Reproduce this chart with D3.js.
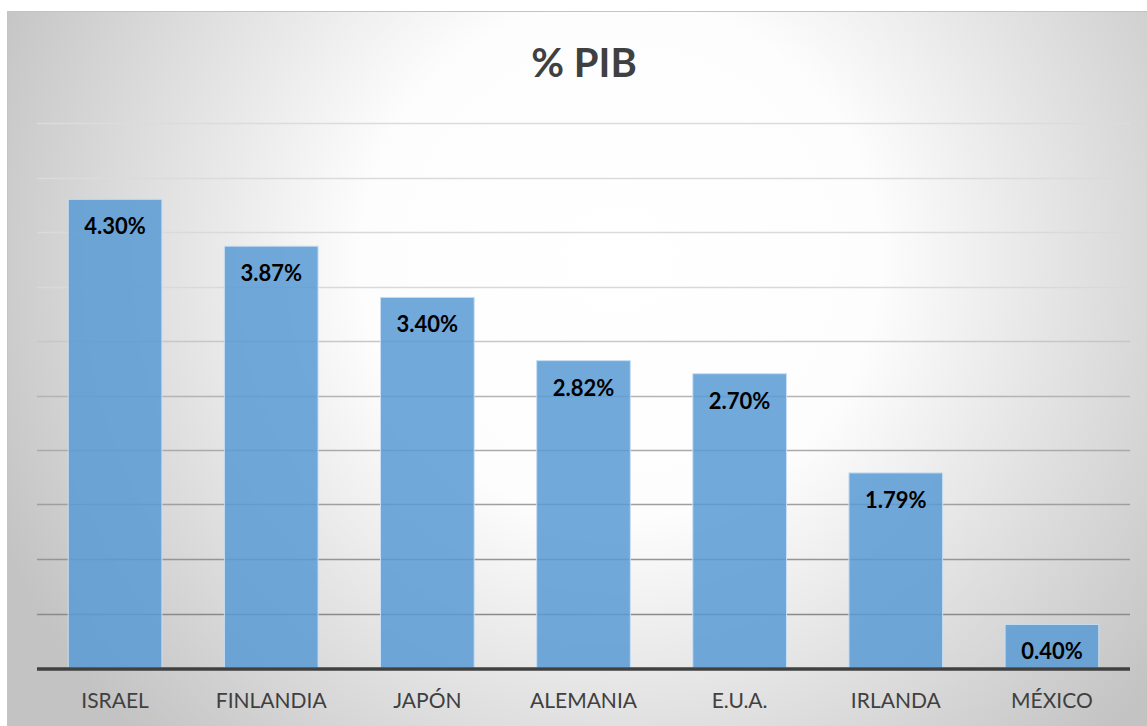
<!DOCTYPE html>
<html lang="es">
<head>
	<meta charset="UTF-8"/>
	<title>% PIB</title>
	<script src="https://d3js.org/d3.v7.min.js"></script>
	<style>
		body { margin: 0; background: #ffffff; }
		svg { display: block; }
	</style>
</head>
<body>
	<script>
		var paises = ["ISRAEL", "FINLANDIA", "JAPÓN", "ALEMANIA", "E.U.A.", "IRLANDA", "MÉXICO"];
		var valores = [4.30, 3.87, 3.40, 2.82, 2.70, 1.79, 0.40];
		var lineasGuia = [0.5, 1, 1.5, 2, 2.5, 3, 3.5, 4, 4.5, 5];

		var w = 1147;
		var h = 726;
		var margen = { izq: 37, der: 1130, arriba: 123, abajo: 668 };

		var svg = d3.select("body").append("svg").attr("width", w).attr("height", h);

		// fondo con degradado radial
		var defs = svg.append("defs");
		var grad = defs.append("radialGradient")
			.attr("id", "fondo")
			.attr("gradientUnits", "userSpaceOnUse")
			.attr("cx", 620).attr("cy", 260).attr("r", 680);
		grad.append("stop").attr("offset", "0").attr("stop-color", "#ffffff");
		grad.append("stop").attr("offset", "0.38").attr("stop-color", "#fdfdfd");
		grad.append("stop").attr("offset", "1").attr("stop-color", "#c3c3c3");

		svg.append("rect")
			.attr("x", 7.5).attr("y", 11.5)
			.attr("width", w - 7).attr("height", h - 11)
			.attr("fill", "url(#fondo)")
			.attr("stroke", "#c4c4c4")
			.attr("stroke-width", 1);

		var xScale = d3.scaleBand()
			.domain(paises)
			.range([margen.izq, margen.der])
			.paddingInner(0.4)
			.paddingOuter(0.2);

		var yScale = d3.scaleLinear()
			.domain([0, 5])
			.range([margen.abajo, margen.arriba]);

		var colorGuia = d3.scaleLinear()
			.domain([0.5, 2.5, 3.5, 5])
			.range(["#8a8a8a", "#b4b4b4", "#d9d9d9", "#dcdcdc"]);

		svg.selectAll("line.guia").data(lineasGuia).enter().append("line")
			.attr("class", "guia")
			.attr("x1", margen.izq).attr("x2", margen.der)
			.attr("y1", function(d) { return Math.round(yScale(d)) + 0.5; })
			.attr("y2", function(d) { return Math.round(yScale(d)) + 0.5; })
			.attr("stroke", function(d) { return colorGuia(d); })
			.attr("stroke-width", 1.3);

		svg.selectAll("rect.barra").data(valores).enter().append("rect")
			.attr("class", "barra")
			.attr("x", function(d, i) { return xScale(paises[i]); })
			.attr("y", function(d) { return yScale(d); })
			.attr("width", xScale.bandwidth())
			.attr("height", function(d) { return yScale(0) - yScale(d); })
			.attr("fill", "#5b9bd5")
			.attr("fill-opacity", 0.86)
			.attr("stroke", "#c9def2")
			.attr("stroke-width", 1);

		// eje inferior
		svg.append("line")
			.attr("x1", margen.izq).attr("x2", margen.der)
			.attr("y1", margen.abajo + 1).attr("y2", margen.abajo + 1)
			.attr("stroke", "#404040")
			.attr("stroke-width", 3.5);

		svg.selectAll("text.valor").data(valores).enter().append("text")
			.attr("class", "valor")
			.text(function(d) { return d.toFixed(2) + "%"; })
			.attr("x", function(d, i) { return xScale(paises[i]) + xScale.bandwidth() / 2; })
			.attr("y", function(d) { return yScale(d) + 35; })
			.attr("text-anchor", "middle")
			.attr("font-family", "Lato, 'Open Sans', sans-serif")
			.attr("font-weight", "bold")
			.attr("font-size", "22px")
			.attr("fill", "#000000");

		svg.selectAll("text.pais").data(paises).enter().append("text")
			.attr("class", "pais")
			.text(function(d) { return d; })
			.attr("x", function(d) { return xScale(d) + xScale.bandwidth() / 2; })
			.attr("y", 708)
			.attr("text-anchor", "middle")
			.attr("font-family", "Lato, 'Open Sans', sans-serif")
			.attr("font-size", "21px")
			.attr("fill", "#404040");

		svg.append("text")
			.text("% PIB")
			.attr("x", 584)
			.attr("y", 77)
			.attr("text-anchor", "middle")
			.attr("font-family", "Lato, 'Open Sans', sans-serif")
			.attr("font-weight", "bold")
			.attr("font-size", "40px")
			.attr("fill", "#404040");
	</script>
</body>
</html>
